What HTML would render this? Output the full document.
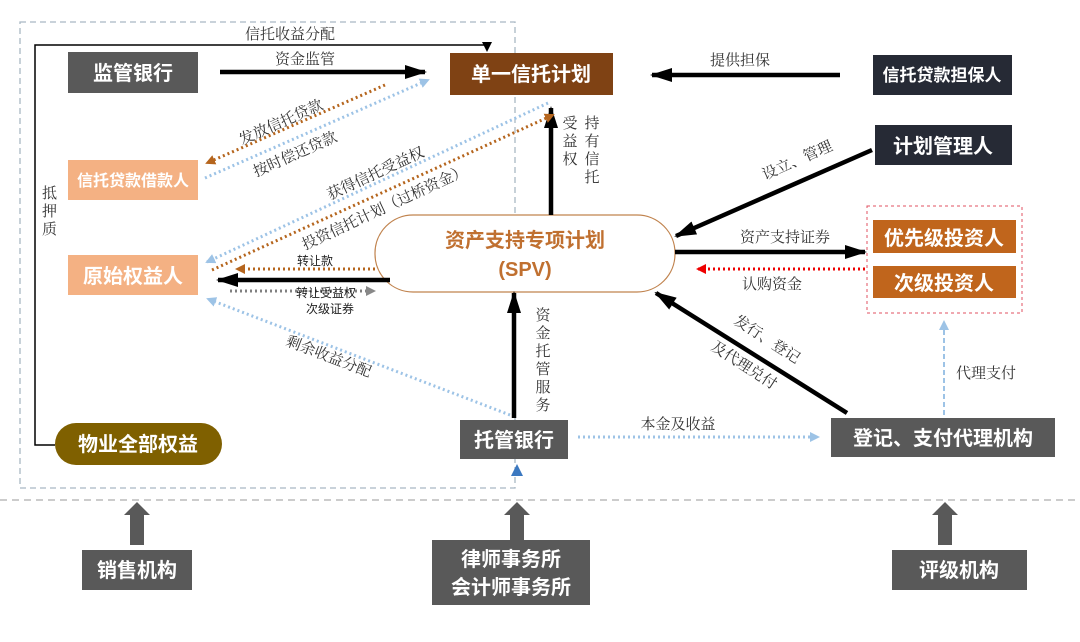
<!DOCTYPE html>
<html><head><meta charset="utf-8"><style>
body{margin:0;background:#fff;}
svg text{font-family:"Liberation Sans","Noto Sans CJK SC",sans-serif;}
.b{font-weight:bold;fill:#fff;font-size:20px;text-anchor:middle;}
.l{font-size:15px;fill:#333;font-family:"Liberation Serif","Noto Serif CJK SC",serif !important;}
.s{font-size:12px;fill:#222;}
</style></head><body>
<svg width="1080" height="637" viewBox="0 0 1080 637" xmlns="http://www.w3.org/2000/svg">
<defs>
<marker id="ak" markerWidth="22" markerHeight="14" refX="20" refY="7" orient="auto" markerUnits="userSpaceOnUse"><path d="M0,0 L22,7 L0,14 z" fill="#000"/></marker>
<marker id="ab" markerWidth="10" markerHeight="10" refX="8" refY="5" orient="auto" markerUnits="userSpaceOnUse"><path d="M0,0 L10,5 L0,10 z" fill="#9dc3e6"/></marker>
<marker id="ao" markerWidth="10" markerHeight="10" refX="8" refY="5" orient="auto" markerUnits="userSpaceOnUse"><path d="M0,0 L10,5 L0,10 z" fill="#b5651d"/></marker>
<marker id="ar" markerWidth="10" markerHeight="10" refX="8" refY="5" orient="auto" markerUnits="userSpaceOnUse"><path d="M0,0 L10,5 L0,10 z" fill="#e00"/></marker>
<marker id="ag" markerWidth="10" markerHeight="10" refX="8" refY="5" orient="auto" markerUnits="userSpaceOnUse"><path d="M0,0 L10,5 L0,10 z" fill="#888"/></marker>
<marker id="at" markerWidth="10" markerHeight="10" refX="8" refY="5" orient="auto" markerUnits="userSpaceOnUse"><path d="M0,0 L10,5 L0,10 z" fill="#000"/></marker>
</defs>
<rect x="20" y="22" width="495" height="466" fill="none" stroke="#a9b8c4" stroke-width="1.3" stroke-dasharray="6,4"/>
<line x1="0" y1="500" x2="1080" y2="500" stroke="#bbb" stroke-width="1.5" stroke-dasharray="7,5"/>
<polyline points="55,445 35,445 35,45 487,45 487,50" fill="none" stroke="#000" stroke-width="1.5" marker-end="url(#at)"/>
<text x="290" y="39" class="l" text-anchor="middle">信托收益分配</text>
<text x="42" y="198" class="l">抵</text><text x="42" y="216" class="l">押</text><text x="42" y="234" class="l">质</text>
<rect x="68" y="52" width="130" height="41" fill="#595959"/><text x="133" y="80" class="b">监管银行</text>
<rect x="450" y="53" width="163" height="42" fill="#7f4214"/><text x="531" y="81" class="b">单一信托计划</text>
<rect x="873" y="55" width="139" height="40" fill="#262a35"/><text x="942" y="81" class="b" style="font-size:17px">信托贷款担保人</text>
<rect x="875" y="125" width="137" height="40" fill="#262a35"/><text x="943" y="153" class="b">计划管理人</text>
<rect x="68" y="160" width="130" height="40" fill="#f4b183"/><text x="133" y="186" class="b" style="font-size:16px">信托贷款借款人</text>
<rect x="68" y="255" width="130" height="40" fill="#f4b183"/><text x="133" y="283" class="b">原始权益人</text>
<rect x="375" y="215" width="300" height="77" rx="38" fill="#fff" stroke="#c0834e" stroke-width="1.2"/>
<text x="525" y="247" text-anchor="middle" style="font-weight:bold;font-size:20px;fill:#c07030">资产支持专项计划</text>
<text x="525" y="276" text-anchor="middle" style="font-weight:bold;font-size:20px;fill:#c07030">(SPV)</text>
<rect x="867" y="206" width="155" height="107" fill="none" stroke="#e05060" stroke-width="1" stroke-dasharray="3,3"/>
<rect x="873" y="220" width="143" height="33" fill="#c0651c"/><text x="944" y="245" class="b">优先级投资人</text>
<rect x="873" y="266" width="143" height="32" fill="#c0651c"/><text x="944" y="290" class="b">次级投资人</text>
<rect x="55" y="423" width="167" height="42" rx="21" fill="#7f6000"/><text x="138" y="451" class="b">物业全部权益</text>
<rect x="460" y="420" width="108" height="39" fill="#595959"/><text x="514" y="447" class="b">托管银行</text>
<rect x="831" y="418" width="224" height="39" fill="#595959"/><text x="943" y="445" class="b">登记、支付代理机构</text>
<rect x="82" y="550" width="110" height="40" fill="#595959"/><text x="137" y="577" class="b">销售机构</text>
<rect x="432" y="540" width="158" height="65" fill="#595959"/><text x="511" y="566" class="b">律师事务所</text><text x="511" y="594" class="b">会计师事务所</text>
<rect x="892" y="550" width="135" height="40" fill="#595959"/><text x="959" y="577" class="b">评级机构</text>
<g fill="#595959">
<polygon points="130,545 130,515 124,515 137,502 150,515 144,515 144,545"/>
<polygon points="510,540 510,515 504,515 517,502 530,515 524,515 524,540"/>
<polygon points="938,545 938,515 932,515 945,502 958,515 952,515 952,545"/>
</g>
<polygon points="511,476 517,464 523,476" fill="#3b78c0"/>
<g stroke="#000" stroke-width="4.5" fill="none">
<line x1="220" y1="72" x2="425" y2="72" marker-end="url(#ak)"/>
<line x1="840" y1="75" x2="652" y2="75" marker-end="url(#ak)"/>
<line x1="872" y1="150" x2="676" y2="236" marker-end="url(#ak)"/>
<line x1="675" y1="252" x2="865" y2="252" marker-end="url(#ak)"/>
<line x1="847" y1="413" x2="656" y2="293" marker-end="url(#ak)"/>
<line x1="551" y1="215" x2="551" y2="108" marker-end="url(#ak)"/>
<line x1="514" y1="418" x2="514" y2="293" marker-end="url(#ak)"/>
<line x1="390" y1="280" x2="218" y2="280" marker-end="url(#ak)"/>
</g>
<g fill="none" stroke-width="3" stroke-dasharray="2,3">
<line x1="865" y1="269" x2="698" y2="269" stroke="#e00" marker-end="url(#ar)"/>
<line x1="944" y1="415" x2="944" y2="322" stroke="#9dc3e6" stroke-dasharray="5,3" stroke-width="2" marker-end="url(#ab)"/>
<line x1="578" y1="437" x2="818" y2="437" stroke="#9dc3e6" marker-end="url(#ab)"/>
<line x1="375" y1="269" x2="237" y2="269" stroke="#b5651d" marker-end="url(#ao)"/>
<line x1="230" y1="291" x2="374" y2="291" stroke="#808080" marker-end="url(#ag)"/>
<line x1="510" y1="415" x2="208" y2="299" stroke="#9dc3e6" marker-end="url(#ab)"/>
<line x1="548" y1="103" x2="207" y2="262" stroke="#9dc3e6" marker-end="url(#ab)"/>
<line x1="212" y1="270" x2="553" y2="115" stroke="#b5651d" marker-end="url(#ao)"/>
<line x1="385" y1="85" x2="207" y2="163" stroke="#b5651d" marker-end="url(#ao)"/>
<line x1="205" y1="178" x2="428" y2="80" stroke="#9dc3e6" marker-end="url(#ab)"/>
</g>
<text x="305" y="64" class="l" text-anchor="middle">资金监管</text>
<text x="740" y="65" class="l" text-anchor="middle">提供担保</text>
<text x="785" y="242" class="l" text-anchor="middle">资产支持证券</text>
<text x="772" y="289" class="l" text-anchor="middle">认购资金</text>
<text x="986" y="378" class="l" text-anchor="middle">代理支付</text>
<text x="678" y="429" class="l" text-anchor="middle">本金及收益</text>
<text x="315" y="265" class="s" text-anchor="middle">转让款</text>
<text x="326" y="297" class="s" text-anchor="middle">转让受益权</text>
<text x="330" y="313" class="s" text-anchor="middle">次级证券</text>
<g class="l" text-anchor="middle">
<text x="543" y="320" class="l">资</text><text x="543" y="338" class="l">金</text><text x="543" y="356" class="l">托</text><text x="543" y="374" class="l">管</text><text x="543" y="392" class="l">服</text><text x="543" y="410" class="l">务</text>
<text x="570" y="128" class="l">受</text><text x="570" y="146" class="l">益</text><text x="570" y="164" class="l">权</text>
<text x="592" y="128" class="l">持</text><text x="592" y="146" class="l">有</text><text x="592" y="164" class="l">信</text><text x="592" y="182" class="l">托</text>
</g>
<text class="l" transform="translate(242,145) rotate(-24)">发放信托贷款</text>
<text class="l" transform="translate(256,177) rotate(-24)">按时偿还贷款</text>
<text class="l" transform="translate(330,200) rotate(-25)">获得信托受益权</text>
<text class="l" transform="translate(305,250) rotate(-25)">投资信托计划（过桥资金）</text>
<text class="l" transform="translate(285,345) rotate(21)">剩余收益分配</text>
<text class="l" transform="translate(765,180) rotate(-24)">设立、管理</text>
<text class="l" transform="translate(733,323) rotate(33)">发行、登记</text>
<text class="l" transform="translate(710,349) rotate(33)">及代理兑付</text>
</svg>
</body></html>
